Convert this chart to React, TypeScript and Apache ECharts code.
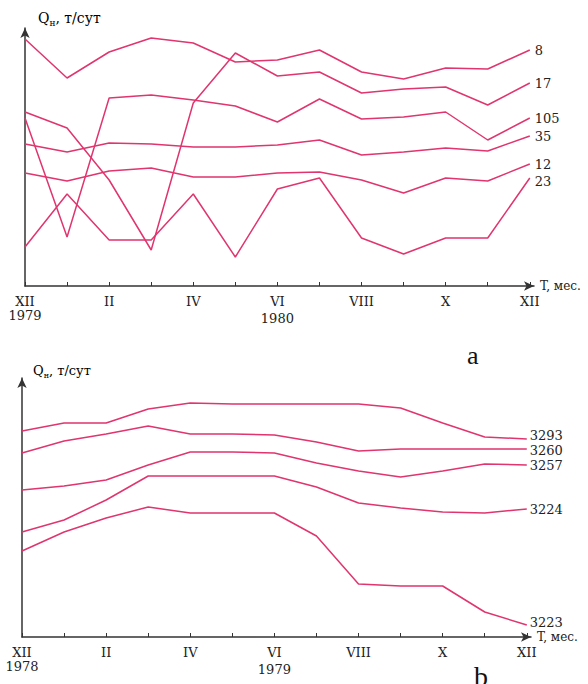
import React, { useEffect, useRef } from "react";
import * as echarts from "echarts";

// Month index 0..12 (XII of first year .. XII of next year)
const MONTH_INDEX = [0, 1, 2, 3, 4, 5, 6, 7, 8, 9, 10, 11, 12];
const MONTH_LABELS = ["XII", "I", "II", "III", "IV", "V", "VI", "VII", "VIII", "IX", "X", "XI", "XII"];
const LABELED_TICKS = [0, 2, 4, 6, 8, 10, 12];

// Chart a (relative oil rate, arbitrary units)
const A_YEARS: Record<number, string> = { 0: "1979", 6: "1980" };
const A_NAMES = ["8", "17", "105", "35", "12", "23"];
const A_W8 = [247, 208, 234, 248, 243, 224, 226, 236, 214, 207, 218, 217, 236];
const A_W17 = [174, 158, 106, 36, 183, 233, 210, 214, 193, 197, 199, 181, 203];
const A_W105 = [168, 49, 188, 191, 186, 180, 164, 187, 167, 169, 174, 146, 168];
const A_W35 = [142, 134, 143, 142, 139, 139, 141, 146, 131, 134, 138, 135, 150];
const A_W12 = [113, 105, 115, 118, 109, 109, 113, 114, 106, 93, 108, 105, 122];
const A_W23 = [39, 92, 46, 46, 92, 29, 97, 108, 48, 32, 48, 48, 108];
const A_VALUES = [A_W8, A_W17, A_W105, A_W35, A_W12, A_W23];

// Chart b
const B_YEARS: Record<number, string> = { 0: "1978", 6: "1979" };
const B_NAMES = ["3293", "3260", "3257", "3224", "3223"];
const B_W3293 = [206, 214, 214, 228, 234, 233, 233, 233, 233, 229, 214, 200, 198];
const B_W3260 = [184, 196, 203, 211, 203, 203, 202, 195, 186, 188, 188, 188, 188];
const B_W3257 = [147, 151, 157, 172, 185, 185, 184, 174, 166, 160, 166, 173, 172];
const B_W3224 = [105, 117, 137, 161, 161, 161, 161, 150, 134, 129, 125, 124, 128];
const B_W3223 = [86, 105, 119, 130, 124, 124, 124, 101, 53, 51, 51, 25, 12];
const B_VALUES = [B_W3293, B_W3260, B_W3257, B_W3224, B_W3223];

const LINE_COLOR = "#e0356e";
const AXIS_COLOR = "#333";
const TEXT_COLOR = "#222";
const SERIF = "'DejaVu Serif', 'Liberation Serif', serif";

function makeXAxis(gridIndex: number, years: Record<number, string>) {
  return {
    type: "value",
    gridIndex,
    min: 0,
    max: 12.1,
    splitLine: { show: false },
    name: "T, мес.",
    nameLocation: "end",
    nameGap: 6,
    nameTextStyle: { fontFamily: SERIF, fontSize: 12, color: TEXT_COLOR, align: "left", verticalAlign: "middle" },
    axisLine: {
      show: true,
      symbol: ["none", "arrow"],
      symbolSize: [7, 10],
      lineStyle: { color: AXIS_COLOR, width: 1.5 },
    },
    axisTick: { show: true, inside: true, length: 4, customValues: MONTH_INDEX, lineStyle: { color: AXIS_COLOR } },
    axisLabel: {
      show: true,
      customValues: LABELED_TICKS,
      margin: 9,
      fontFamily: SERIF,
      color: TEXT_COLOR,
      formatter: (v: number) => {
        const i = Math.round(v);
        const m = MONTH_LABELS[i];
        if (years[i]) {
          return i === 0 ? `{m|${m}}\n{y1|${years[i]}}` : `{m|${m}}\n{y2|${years[i]}}`;
        }
        return `{m|${m}}`;
      },
      rich: {
        m: { fontFamily: SERIF, fontSize: 13, lineHeight: 13, color: TEXT_COLOR },
        y1: { fontFamily: SERIF, fontSize: 13, lineHeight: 14, color: TEXT_COLOR },
        y2: { fontFamily: SERIF, fontSize: 13, lineHeight: 21, color: TEXT_COLOR },
      },
    },
  };
}

function makeYAxis(gridIndex: number, max: number) {
  return {
    type: "value",
    gridIndex,
    min: 0,
    max,
    splitLine: { show: false },
    axisTick: { show: false },
    axisLabel: { show: false },
    axisLine: {
      show: true,
      symbol: ["none", "arrow"],
      symbolSize: [7, 10],
      lineStyle: { color: AXIS_COLOR, width: 1.5 },
    },
  };
}

function makeSeries(
  names: string[],
  values: number[][],
  axisIndex: number,
  labelDist: number,
  fontSize: number,
  offsets: Record<string, number>
) {
  return names.map((name, k) => ({
    type: "line",
    name,
    xAxisIndex: axisIndex,
    yAxisIndex: axisIndex,
    data: values[k].map((v, i) => [MONTH_INDEX[i], v]),
    symbol: "none",
    lineStyle: { color: LINE_COLOR, width: 1.5 },
    itemStyle: { color: LINE_COLOR },
    endLabel: {
      show: true,
      formatter: "{a}",
      distance: labelDist,
      offset: [0, offsets[name] || 0],
      fontFamily: SERIF,
      fontSize,
      lineHeight: fontSize,
      color: TEXT_COLOR,
    },
  }));
}

export default function App() {
  const ref = useRef<HTMLDivElement>(null);
  useEffect(() => {
    if (!ref.current) return;
    const chart = echarts.init(ref.current, undefined, { renderer: "svg" });
    const titleRich = (size: number) => ({
      q: { fontFamily: SERIF, fontSize: size, color: TEXT_COLOR, lineHeight: 18, verticalAlign: "middle" },
      s: { fontFamily: SERIF, fontSize: size - 5, color: TEXT_COLOR, lineHeight: 9, verticalAlign: "bottom" },
    });
    chart.setOption({
      animation: false,
      backgroundColor: "#fff",
      grid: [
        { left: 25, top: 28, width: 509, height: 258 },
        { left: 22, top: 378, width: 509, height: 259 },
      ],
      xAxis: [makeXAxis(0, A_YEARS), makeXAxis(1, B_YEARS)],
      yAxis: [makeYAxis(0, 258), makeYAxis(1, 259)],
      series: [
        ...makeSeries(A_NAMES, A_VALUES, 0, 5, 13, { "23": 3 }),
        ...makeSeries(B_NAMES, B_VALUES, 1, 3, 13, { "3293": -4, "3260": 1, "3223": -3 }),
      ],
      graphic: [
        {
          type: "text",
          left: 38,
          top: 11,
          style: { text: "{q|Q}{s|н}{q|, т/сут}", rich: titleRich(14) },
        },
        {
          type: "text",
          left: 33,
          top: 364,
          style: { text: "{q|Q}{s|н}{q|, т/сут}", rich: titleRich(13) },
        },
        {
          type: "text",
          left: 467,
          top: 342,
          style: { text: "a", fontFamily: "'Liberation Serif', serif", fontSize: 26, fill: "#111" },
        },
        {
          type: "text",
          left: 474,
          top: 662,
          style: { text: "b", fontFamily: "'Liberation Serif', serif", fontSize: 28, fill: "#111" },
        },
      ],
    });
    return () => chart.dispose();
  }, []);
  return (
    <div
      ref={ref}
      style={{ position: "fixed", left: 0, top: 0, width: 588, height: 684, background: "#fff" }}
    />
  );
}
